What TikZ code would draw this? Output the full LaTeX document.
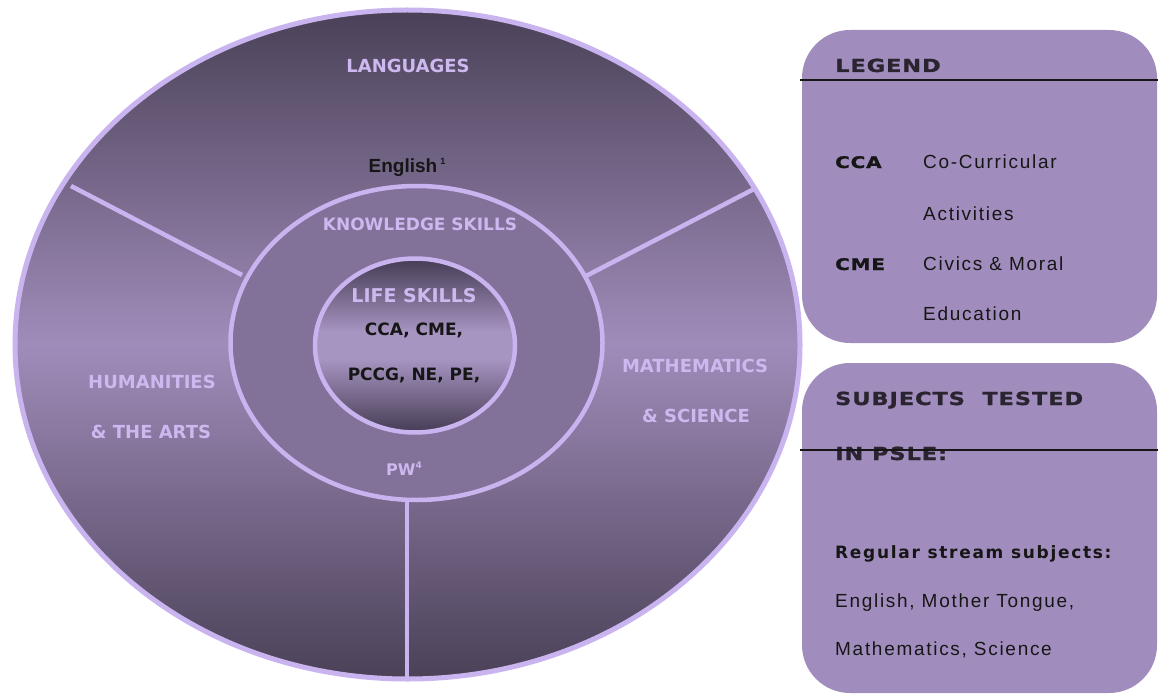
\documentclass[tikz,border=0pt]{standalone}
\usepackage{fontspec}
\setmainfont{Liberation Sans}
\newfontfamily\lblfont{DejaVu Sans}
\newfontfamily\hdrfont[LetterSpace=5,FakeStretch=1.25,BoldFeatures={FakeBold=1.2}]{DejaVu Sans}
\newfontfamily\bodyfont[LetterSpace=9]{Liberation Sans}
\newfontfamily\widebold[LetterSpace=10]{DejaVu Sans}

\definecolor{rim}{HTML}{CAB4F0}
\definecolor{lbl}{HTML}{CDB9EF}
\definecolor{dkband}{HTML}{4A4157}
\definecolor{ltband}{HTML}{A08CBA}
\definecolor{ringfill}{HTML}{827199}
\definecolor{coredk}{HTML}{463C54}
\definecolor{corelt}{HTML}{A694C1}
\definecolor{panel}{HTML}{A18DBD}
\definecolor{hdrink}{HTML}{2A2430}
\definecolor{ink}{HTML}{161616}

% dark at top and bottom, light across the middle
\pgfdeclareverticalshading{bandshade}{100bp}{color(0bp)=(dkband); color(25bp)=(dkband); color(50bp)=(ltband); color(75bp)=(dkband); color(100bp)=(dkband)}
\pgfdeclareverticalshading{coreshade}{100bp}{color(0bp)=(coredk); color(25bp)=(coredk); color(46bp)=(corelt); color(54bp)=(corelt); color(75bp)=(coredk); color(100bp)=(coredk)}

\tikzset{
  divider/.style={draw=rim, line width=4.5pt},
  zone/.style={font=\lblfont\bfseries\fontsize{18}{20}\selectfont, text=lbl, inner sep=0pt, anchor=base},
  corelabel/.style={font=\lblfont\bfseries\fontsize{17}{20}\selectfont, text=ink, inner sep=0pt, anchor=base},
  hdr/.style={font=\hdrfont\bfseries\fontsize{18}{20}\selectfont, text=hdrink, inner sep=0pt, anchor=base west},
  abbr/.style={font=\hdrfont\bfseries\fontsize{16}{18}\selectfont, text=ink, inner sep=0pt, anchor=base west},
  body/.style={font=\bodyfont\fontsize{19}{21}\selectfont, text=ink, inner sep=0pt, anchor=base west},
  bodybold/.style={font=\widebold\bfseries\fontsize{17}{20}\selectfont, text=ink, inner sep=0pt, anchor=base west},
  rule/.style={draw=ink, line width=1.3pt},
}
\newcommand{\supnum}[1]{\raisebox{7pt}{\fontsize{9}{9}\selectfont #1}}

\begin{document}
\begin{tikzpicture}[x=1pt, y=-1pt]
\useasboundingbox (0,0) rectangle (1158,695);
\fill[white] (0,0) rectangle (1158,695);

% outer disc with the three subject areas
\shadedraw[shading=bandshade, draw=rim, line width=5pt] (407.5,344.5) ellipse [x radius=392.5pt, y radius=334.5pt];

\coordinate (divL-o) at (71,186);
\coordinate (divL-i) at (242,275);
\coordinate (divR-o) at (754,189);
\coordinate (divR-i) at (586,276);
\coordinate (divB-i) at (407,498);
\coordinate (divB-o) at (407,680);
\draw[divider] (divL-o) -- (divL-i);
\draw[divider] (divR-o) -- (divR-i);
\draw[divider] (divB-i) -- (divB-o);

% knowledge skills ring
\filldraw[fill=ringfill, draw=rim, line width=4.5pt] (416.5,343) ellipse [x radius=186pt, y radius=157pt];

% life skills core
\shadedraw[shading=coreshade, draw=rim, line width=4.5pt] (415,345.5) ellipse [x radius=100pt, y radius=87pt];

% labels inside the disc
\node[zone] (languages) at (408,73) {LANGUAGES};
\node[font=\bfseries\fontsize{19}{21}\selectfont, text=ink, inner sep=0pt, anchor=base] (english) at (407,172) {English\,\supnum{1}};
\node[zone, font=\lblfont\bfseries\fontsize{17}{20}\selectfont] (knowledge) at (420,230) {KNOWLEDGE SKILLS};
\node[zone, font=\lblfont\bfseries\fontsize{19}{20}\selectfont] (life) at (414,302) {LIFE SKILLS};
\node[corelabel] (core1) at (414,335) {CCA, CME,};
\node[corelabel] (core2) at (414,380) {PCCG, NE, PE,};
\node[zone, font=\lblfont\bfseries\fontsize{16}{20}\selectfont] (pw) at (404,475) {PW\supnum{4}};
\node[zone] (hum1) at (152,388) {HUMANITIES};
\node[zone] (hum2) at (151,438) {\& THE ARTS};
\node[zone] (math1) at (695,372) {MATHEMATICS};
\node[zone] (math2) at (696,422) {\& SCIENCE};

% legend panel
\fill[panel, rounded corners=48pt] (802,30) rectangle (1157,343);
\coordinate (legrule-l) at (800,80);
\coordinate (legrule-r) at (1158,80);
\draw[rule] (legrule-l) -- (legrule-r);
\node[hdr] (legend) at (835,72) {LEGEND};
\node[abbr] (cca) at (835,168) {CCA};
\node[body] (cca-t1) at (923,168) {Co-Curricular};
\node[body] (cca-t2) at (923,220) {Activities};
\node[abbr] (cme) at (835,270) {CME};
\node[body] (cme-t1) at (923,270) {Civics \& Moral};
\node[body] (cme-t2) at (923,320) {Education};

% tested subjects panel
\fill[panel, rounded corners=48pt] (802,363) rectangle (1157,693);
\node[hdr] (tested1) at (835,405) {SUBJECTS\ \ TESTED};
\node[hdr] (tested2) at (835,460) {IN PSLE:};
\coordinate (psrule-l) at (800,450);
\coordinate (psrule-r) at (1158,450);
\draw[rule] (psrule-l) -- (psrule-r);
\node[bodybold] (regular) at (835,558) {Regular stream subjects:};
\node[body] (subj1) at (835,607) {English, Mother Tongue,};
\node[body] (subj2) at (835,655) {Mathematics, Science};
\end{tikzpicture}
\end{document}
